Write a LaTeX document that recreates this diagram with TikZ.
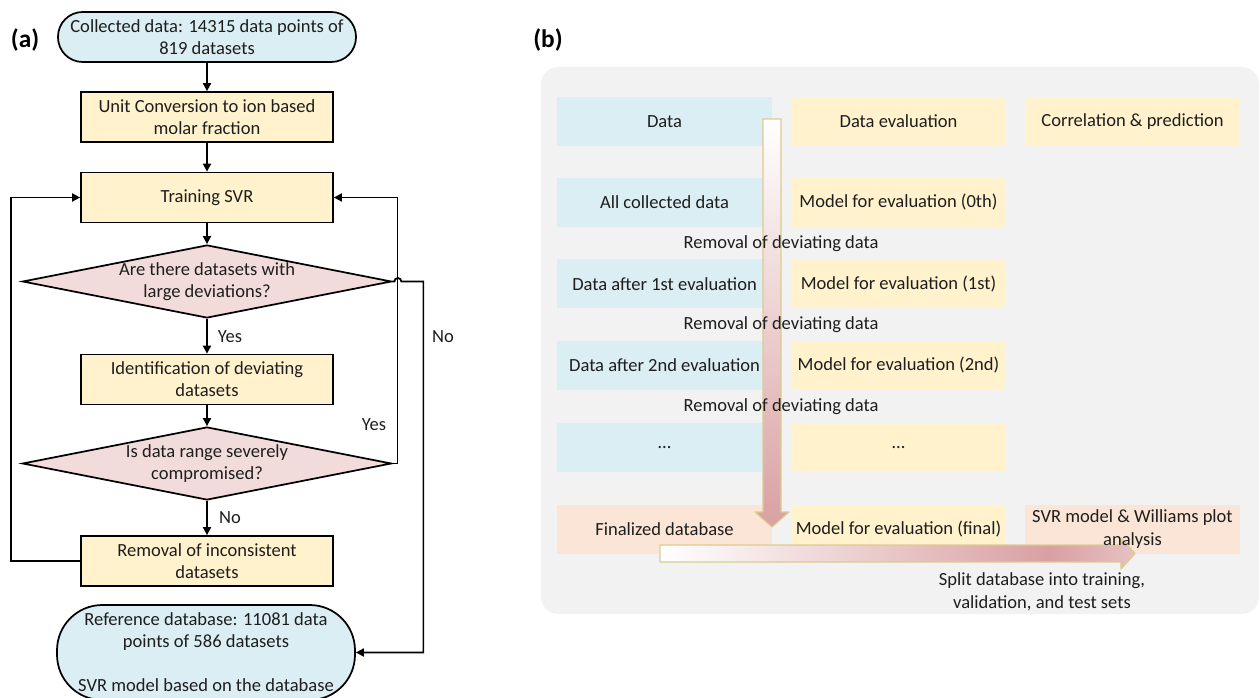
\documentclass[tikz,border=0pt]{standalone}
\usepackage{fontspec}
\setmainfont{Carlito}
\usetikzlibrary{arrows.meta,shapes.geometric,calc}
\definecolor{tblue}{HTML}{DAEEF3}
\definecolor{tyellow}{HTML}{FFF2CC}
\definecolor{tpink}{HTML}{F2DCDB}
\definecolor{tpeach}{HTML}{FBE5D6}
\definecolor{tgray}{HTML}{F2F2F2}
\definecolor{apink}{HTML}{D9A0A2}
\definecolor{atan}{HTML}{DECB8E}
\definecolor{txt}{HTML}{1E1E1E}
\pgfdeclareverticalshading{varrowshade}{100bp}{color(0bp)=(apink); color(25bp)=(apink); color(75bp)=(white); color(100bp)=(white)}
\pgfdeclarehorizontalshading{harrowshade}{100bp}{color(0bp)=(white); color(25bp)=(white); color(66bp)=(apink); color(75bp)=(apink!65!white); color(100bp)=(apink!65!white)}
\begin{document}
\begin{tikzpicture}[x=0.75pt,y=-0.75pt,
  font=\fontsize{13.9}{16.5}\selectfont, text=txt,
  flow/.style={draw=black, line width=1.3pt, rectangle, fill=tyellow, minimum width=189pt, minimum height=37.5pt, inner sep=2pt, align=center},
  term/.style={draw=black, line width=1.3pt, fill=tblue, rectangle, minimum width=223.5pt, align=center, inner sep=1pt},
  dia/.style={draw=black, line width=1.3pt, diamond, fill=tpink, minimum width=276.75pt, minimum height=54.75pt, inner sep=0pt},
  dtext/.style={align=center, inner sep=0pt},
  conn/.style={line width=1.3pt, -{Triangle[length=6pt,width=6pt]}},
  lbl/.style={inner sep=1pt},
  panel/.style={font=\fontsize{19}{22}\selectfont\bfseries, text=black, inner sep=0pt},
  cell/.style={rectangle, minimum width=161.25pt, minimum height=36.75pt, inner sep=0pt, draw=none},
  ctext/.style={align=center, inner sep=0pt, font=\fontsize{13.9}{17.2}\selectfont},
  barrow/.style={draw=atan, line width=0.9pt, line join=round}
]
\useasboundingbox (0,0) rectangle (1260,698);

% ---------------- panel (a) ----------------
\node[panel] (pa) at (25,40) {(a)};

\node[term, rounded corners=18.5pt, minimum height=37.5pt] (top) at (207,37)
  {Collected data: 14315 data points of\\819 datasets};
\node[flow] (unit) at (207,117) {Unit Conversion to ion based\\molar fraction};
\node[flow] (train) at (207,197.5) {Training SVR};
\node[dia] (d1) at (207,281.5) {};
\node[dtext] (d1t) at (d1.center) {Are there datasets with\\large deviations?};
\node[flow] (ident) at (207,379.5) {Identification of deviating\\datasets};
\node[dia] (d2) at (207,463.5) {};
\node[dtext] (d2t) at (d2.center) {Is data range severely\\compromised?};
\node[flow] (rem) at (207,561) {Removal of inconsistent\\datasets};
\node[term, rounded corners=34pt, minimum height=71.25pt] (bot) at (206,652.5)
  {Reference database: 11081 data\\points of 586 datasets\\[16.5pt]SVR model based on the database};

\draw[conn] (top) -- (unit);
\draw[conn] (unit) -- (train);
\draw[conn] (train) -- (d1.north);
\draw[conn] (d1.south) -- (ident);
\draw[conn] (ident) -- (d2.north);
\draw[conn] (d2.south) -- (rem);
\draw[conn] (rem.west) -- ++(-69,0) |- (train.west);
\draw[conn] (d2.east) -- ++(5,0) |- (train.east);
\draw[conn] (d1.east) -- ++(2,0) arc[start angle=180,end angle=360,radius=3.5] -- ++(22,0) |- (bot.east);

\node[lbl] (yes1) at (230,337) {Yes};
\node[lbl] (no1) at (230,518) {No};
\node[lbl] (no2) at (443,337) {No};
\node[lbl] (yes2) at (374,425) {Yes};

% ---------------- panel (b) ----------------
\node[panel] (pb) at (548,40) {(b)};
\fill[tgray, rounded corners=13pt] (541,67) rectangle (1259,614);

% cell fills
\node[cell, fill=tblue]   (c11) at (664.5,121.5) {};
\node[cell, fill=tyellow] (c12) at (898.5,121.5) {};
\node[cell, fill=tyellow] (c13) at (1132.5,121.5) {};
\node[cell, fill=tblue]   (c21) at (664.5,202.5) {};
\node[cell, fill=tyellow] (c22) at (898.5,202.5) {};
\node[cell, fill=tblue]   (c31) at (664.5,284) {};
\node[cell, fill=tyellow] (c32) at (898.5,284) {};
\node[cell, fill=tblue]   (c41) at (664.5,365.5) {};
\node[cell, fill=tyellow] (c42) at (898.5,365.5) {};
\node[cell, fill=tblue]   (c51) at (664.5,447.5) {};
\node[cell, fill=tyellow] (c52) at (898.5,447.5) {};
\node[cell, fill=tpeach]  (c61) at (664.5,529) {};
\node[cell, fill=tyellow] (c62) at (898.5,529) {};
\node[cell, fill=tpeach]  (c63) at (1132.5,529) {};

% block arrows
\draw[barrow, shading=varrowshade]
  (763,119) -- (781,119) -- (781,512) -- (789,512) -- (772,527) -- (755,512) -- (763,512) -- cycle;
\draw[barrow, shading=harrowshade]
  (660,545) -- (1121,545) -- (1121,538) -- (1135,553.5) -- (1121,569) -- (1121,562) -- (660,562) -- cycle;

% cell texts
\node[ctext] (t11) at (c11) {Data};
\node[ctext] (t12) at (c12) {Data evaluation};
\node[ctext] (t13) at (c13) {Correlation \& prediction};
\node[ctext] (t21) at (c21) {All collected data};
\node[ctext] (t22) at (c22) {Model for evaluation (0th)};
\node[ctext] (t31) at (c31) {Data after 1st evaluation};
\node[ctext] (t32) at (c32) {Model for evaluation (1st)};
\node[ctext] (t41) at (c41) {Data after 2nd evaluation};
\node[ctext] (t42) at (c42) {Model for evaluation (2nd)};
\node[ctext] (t51) at (c51) {…};
\node[ctext] (t52) at (c52) {…};
\node[ctext] (t61) at (c61) {Finalized database};
\node[ctext] (t62) at (c62) {Model for evaluation (final)};
\node[ctext] (t63) at ($(c63)+(0,0.5)$) {SVR model \& Williams plot\\analysis};

\node[ctext] (r1) at (781,243.5) {Removal of deviating data};
\node[ctext] (r2) at (781,325) {Removal of deviating data};
\node[ctext] (r3) at (781,407) {Removal of deviating data};
\node[ctext] (split) at (1042,591.5) {Split database into training,\\validation, and test sets};
\end{tikzpicture}
\end{document}
